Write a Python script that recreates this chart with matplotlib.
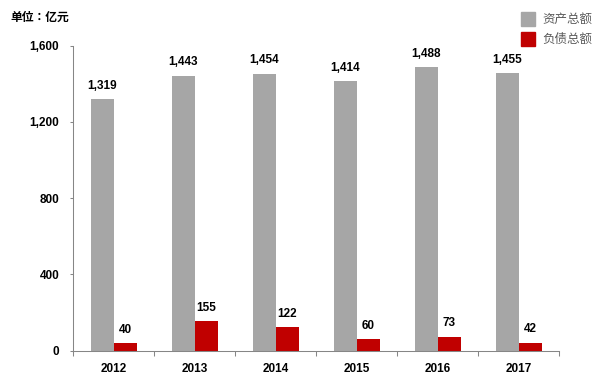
import numpy as np
import matplotlib.pyplot as plt
from matplotlib.patches import Rectangle

plt.rcParams['font.family'] = ['Noto Sans CJK SC', 'DejaVu Sans']

years = ["2012", "2013", "2014", "2015", "2016", "2017"]
totalAssets = [1319, 1443, 1454, 1414, 1488, 1455]
totalLiabilities = [40, 155, 122, 60, 73, 42]
seriesNames = ["资产总额", "负债总额"]
yTicks = [0, 400, 800, 1200, 1600]

grayColor = "#A6A6A6"
redColor = "#C00000"
axisColor = "#868686"
numFont = "Liberation Sans"

fig = plt.figure(figsize=(6, 3.8), dpi=100)
ax = fig.add_axes([0.122, 0.0776, 0.810, 0.802])

x = np.arange(len(years))
barWidth = 0.284

ax.bar(x - barWidth / 2, totalAssets, width=barWidth, color=grayColor)
ax.bar(x + barWidth / 2, totalLiabilities, width=barWidth, color=redColor)

# value labels above each bar
for xi, v in zip(x, totalAssets):
    ax.annotate(f"{v:,}", (xi - barWidth / 2, v), xytext=(0, 9.5),
                textcoords="offset points", ha="center", va="center",
                fontsize=8.5, fontweight="bold", family=numFont)
for xi, v in zip(x, totalLiabilities):
    ax.annotate(f"{v:,}", (xi + barWidth / 2, v), xytext=(0, 9.5),
                textcoords="offset points", ha="center", va="center",
                fontsize=8.5, fontweight="bold", family=numFont)

ax.set_xlim(-0.5, len(years) - 0.5)
ax.set_ylim(0, 1600)
ax.set_yticks(yTicks)
ax.set_yticklabels([f"{t:,}" for t in yTicks], fontsize=8.5, fontweight="bold",
                   family=numFont)
ax.set_xticks(x)
ax.set_xticklabels(years, fontsize=8.5, fontweight="bold", family=numFont)
ax.tick_params(axis="x", length=0, pad=9)
ax.set_xticks(np.arange(-0.5, len(years)), minor=True)
ax.tick_params(axis="x", which="minor", length=3.6, width=0.75,
               color=axisColor, direction="out")
ax.tick_params(axis="y", length=2.5, width=0.75, color=axisColor,
               direction="out", pad=7.5)

for side in ["top", "right"]:
    ax.spines[side].set_visible(False)
for side in ["left", "bottom"]:
    ax.spines[side].set_color(axisColor)
    ax.spines[side].set_linewidth(0.75)

fig.text(10 / 600, 1 - 17 / 380, "单位：亿元", fontsize=8.5, fontweight="bold",
         va="center", family=["Noto Sans CJK JP", "DejaVu Sans"])

# legend drawn by hand, top right
legendColors = [grayColor, redColor]
for i, (name, col) in enumerate(zip(seriesNames, legendColors)):
    top = 12 + i * 20
    fig.patches.append(Rectangle((521 / 600, 1 - (top + 14) / 380), 14 / 600, 14 / 380,
                                 transform=fig.transFigure, color=col))
    fig.text(542 / 600, 1 - (top + 7) / 380, name, fontsize=9, color="#595959",
             va="center", ha="left")

fig.savefig("out.png", dpi=100)
